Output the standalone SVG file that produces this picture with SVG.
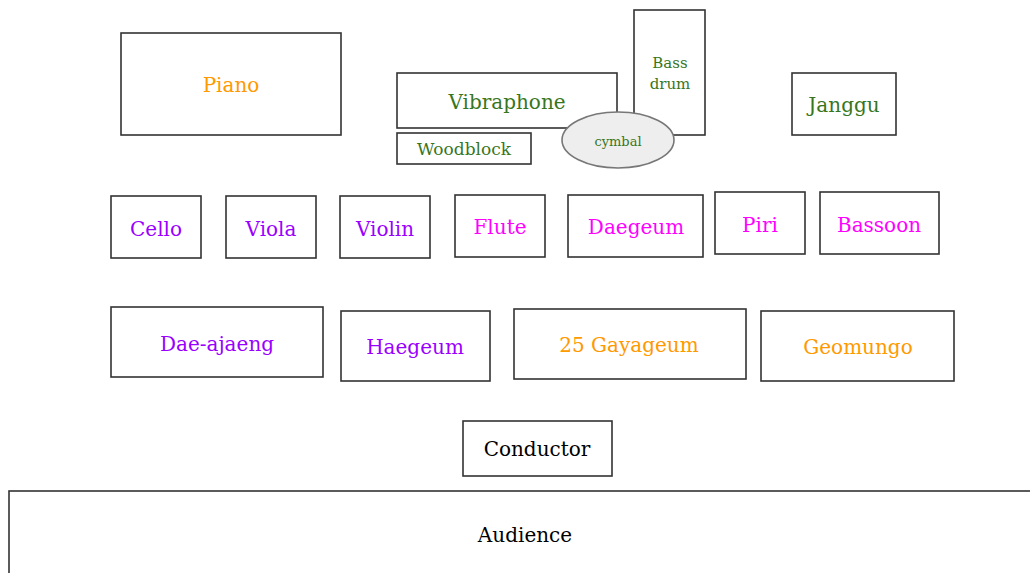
<svg xmlns="http://www.w3.org/2000/svg" width="1030" height="573" viewBox="0 0 1030 573">
<style>
.box{fill:#fff;stroke:#333;stroke-width:1.6}
text{font-family:"DejaVu Serif","Liberation Serif",serif;text-anchor:middle;font-size:20px}
.g{fill:#38761d}.o{fill:#ff9900}.p{fill:#9900ff}.m{fill:#ff00ff}.k{fill:#000}
</style>
<rect width="1030" height="573" fill="#fff"/>
<g id="piano"><rect class="box" x="121" y="33" width="220" height="102"/><text class="o" x="231" y="92">Piano</text></g>
<g id="vibraphone"><rect class="box" x="397" y="73" width="220" height="55"/><text class="g" x="507" y="109">Vibraphone</text></g>
<g id="woodblock"><rect class="box" x="397" y="133" width="134" height="31"/><text class="g" x="464" y="155" style="font-size:17px">Woodblock</text></g>
<g id="bassdrum"><rect class="box" x="634" y="10" width="71" height="125"/><text class="g" x="670" y="68" style="font-size:15px">Bass</text><text class="g" x="670" y="89" style="font-size:15px">drum</text></g>
<g id="cymbal"><ellipse cx="618" cy="140" rx="56" ry="28" fill="#eeeeee" stroke="#777" stroke-width="1.6"/><text class="g" x="618" y="146" style="font-size:13px">cymbal</text></g>
<g id="janggu"><rect class="box" x="792" y="73" width="104" height="62"/><text class="g" x="844" y="112">Janggu</text></g>
<g id="cello"><rect class="box" x="111" y="196" width="90" height="62"/><text class="p" x="156" y="236">Cello</text></g>
<g id="viola"><rect class="box" x="226" y="196" width="90" height="62"/><text class="p" x="271" y="236">Viola</text></g>
<g id="violin"><rect class="box" x="340" y="196" width="90" height="62"/><text class="p" x="385" y="236">Violin</text></g>
<g id="flute"><rect class="box" x="455" y="195" width="90" height="62"/><text class="m" x="500" y="234">Flute</text></g>
<g id="daegeum"><rect class="box" x="568" y="195" width="135" height="62"/><text class="m" x="636" y="234">Daegeum</text></g>
<g id="piri"><rect class="box" x="715" y="192" width="90" height="62"/><text class="m" x="760" y="232">Piri</text></g>
<g id="bassoon"><rect class="box" x="820" y="192" width="119" height="62"/><text class="m" x="879" y="232">Bassoon</text></g>
<g id="daeajaeng"><rect class="box" x="111" y="307" width="212" height="70"/><text class="p" x="217" y="351">Dae-ajaeng</text></g>
<g id="haegeum"><rect class="box" x="341" y="311" width="149" height="70"/><text class="p" x="415" y="354">Haegeum</text></g>
<g id="gayageum"><rect class="box" x="514" y="309" width="232" height="70"/><text class="o" x="629" y="352">25 Gayageum</text></g>
<g id="geomungo"><rect class="box" x="761" y="311" width="193" height="70"/><text class="o" x="858" y="354">Geomungo</text></g>
<g id="conductor"><rect class="box" x="463" y="421" width="149" height="55"/><text class="k" x="537" y="456">Conductor</text></g>
<g id="audience"><rect class="box" x="9" y="491" width="1030" height="90"/><text class="k" x="525" y="542">Audience</text></g>
<g id="connectors"/>
</svg>
